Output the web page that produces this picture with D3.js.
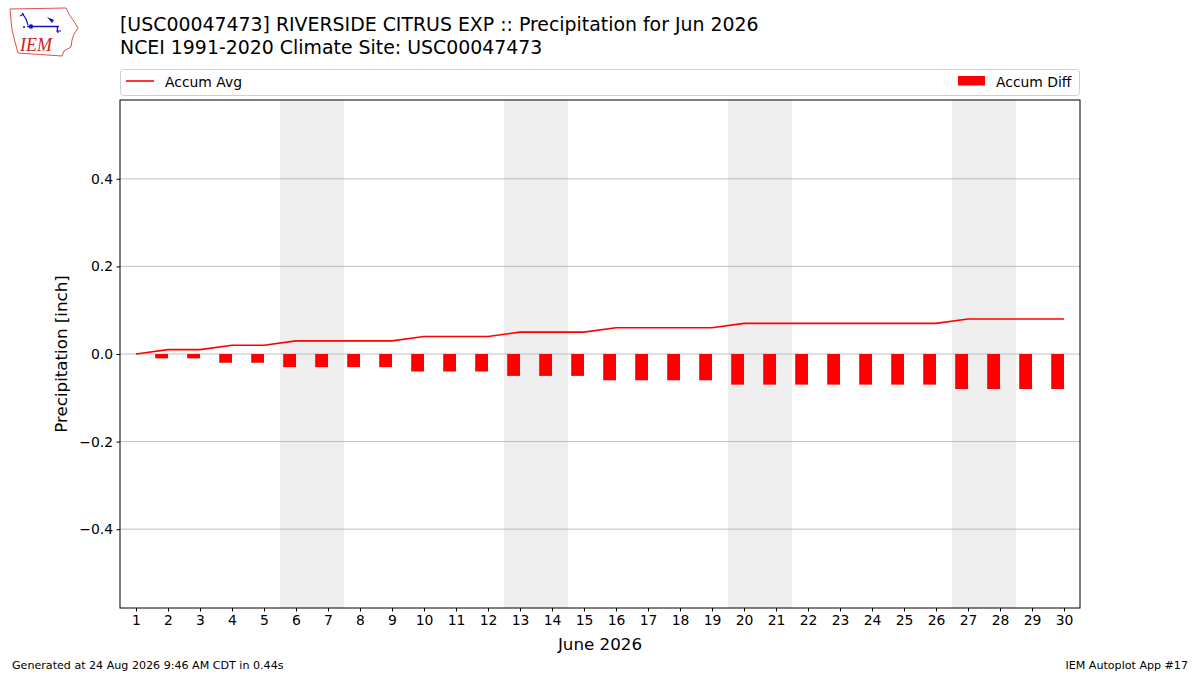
<!DOCTYPE html>
<html>
<head>
<meta charset="utf-8">
<script src="https://cdn.jsdelivr.net/npm/d3@7"></script>
<style>
html,body{margin:0;padding:0;background:#fff;}
svg{display:block;font-family:"DejaVu Sans",sans-serif;}
</style>
</head>
<body>
<svg id="chart" width="1200" height="675"></svg>
<script>
const days = d3.range(1, 31);
const accumAvg = [0.00,0.01,0.01,0.02,0.02,0.03,0.03,0.03,0.03,0.04,0.04,0.04,0.05,0.05,0.05,0.06,0.06,0.06,0.06,0.07,0.07,0.07,0.07,0.07,0.07,0.07,0.08,0.08,0.08,0.08];
const accumDiff = [0.00,-0.01,-0.01,-0.02,-0.02,-0.03,-0.03,-0.03,-0.03,-0.04,-0.04,-0.04,-0.05,-0.05,-0.05,-0.06,-0.06,-0.06,-0.06,-0.07,-0.07,-0.07,-0.07,-0.07,-0.07,-0.07,-0.08,-0.08,-0.08,-0.08];
const weekendStarts = [6, 13, 20, 27];
const yTicks = [-0.4, -0.2, 0.0, 0.2, 0.4];
const titleLines = ["[USC00047473] RIVERSIDE CITRUS EXP :: Precipitation for Jun 2026", "NCEI 1991-2020 Climate Site: USC00047473"];
const xLabel = "June 2026";
const yLabel = "Precipitation [inch]";
const footerLeft = "Generated at 24 Aug 2026 9:46 AM CDT in 0.44s";
const footerRight = "IEM Autoplot App #17";

const svg = d3.select("#chart");
const L = 120, R = 1080, T = 100, B = 608;
const x = d3.scaleLinear().domain([0.5, 30.5]).range([L, R]);
const y = d3.scaleLinear().domain([-0.58, 0.58]).range([B, T]);
const red = "#ff0000";

// weekend shading
svg.append("g").selectAll("rect").data(weekendStarts).join("rect")
  .attr("x", d => x(d - 0.5)).attr("width", d => x(d + 1.5) - x(d - 0.5))
  .attr("y", T).attr("height", B - T).attr("fill", "#eeeeee");

// grid
svg.append("g").selectAll("line").data(yTicks).join("line")
  .attr("x1", L).attr("x2", R).attr("y1", d => y(d)).attr("y2", d => y(d))
  .attr("stroke", "#b0b0b0").attr("stroke-width", 0.8);

// bars
svg.append("g").selectAll("rect").data(days).join("rect")
  .attr("x", (d) => x(d - 0.4))
  .attr("width", (d) => x(d) - x(d - 0.4))
  .attr("y", (d, i) => Math.min(y(0), y(accumDiff[i])))
  .attr("height", (d, i) => Math.abs(y(accumDiff[i]) - y(0)))
  .attr("fill", red);

// line
const line = d3.line().x((d, i) => x(days[i])).y(d => y(d));
svg.append("path").datum(accumAvg).attr("d", line)
  .attr("fill", "none").attr("stroke", red).attr("stroke-width", 1.6);

// frame
svg.append("rect").attr("x", L).attr("y", T).attr("width", R - L).attr("height", B - T)
  .attr("fill", "none").attr("stroke", "#000").attr("stroke-width", 1);

// axes
const fmtY = d => d3.format(".1f")(d).replace("-", "\u2212");
const yAxis = d3.axisLeft(y).tickValues(yTicks).tickFormat(fmtY).tickSize(3.5).tickPadding(3.5);
const gy = svg.append("g").attr("transform", `translate(${L},0)`).call(yAxis);
const xAxis = d3.axisBottom(x).tickValues(days).tickFormat(d3.format("d")).tickSize(3.5).tickPadding(3.5);
const gx = svg.append("g").attr("transform", `translate(0,${B})`).call(xAxis);
[gx, gy].forEach(g => {
  g.select(".domain").remove();
  g.selectAll("text").attr("font-size", 13.9).attr("font-family", "DejaVu Sans").attr("fill", "#000");
  g.selectAll("line").attr("stroke", "#000");
});

// axis labels
svg.append("text").attr("x", (L + R) / 2).attr("y", 650).attr("text-anchor", "middle")
  .attr("font-size", 16.7).text(xLabel);
svg.append("text").attr("transform", `translate(67,${(T + B) / 2}) rotate(-90)`)
  .attr("text-anchor", "middle").attr("font-size", 16.7).text(yLabel);

// title
svg.selectAll(".title").data(titleLines).join("text").attr("class", "title")
  .attr("x", 120).attr("y", (d, i) => 31 + i * 23).attr("font-size", 18.9).text(d => d);

// legend
const lg = svg.append("g");
lg.append("rect").attr("x", 120.5).attr("y", 69.5).attr("width", 959).attr("height", 26).attr("rx", 3)
  .attr("fill", "#fff").attr("stroke", "#d0d0d0");
lg.append("line").attr("x1", 126).attr("x2", 154).attr("y1", 81).attr("y2", 81)
  .attr("stroke", red).attr("stroke-width", 1.6);
lg.append("text").attr("x", 165).attr("y", 86.5).attr("font-size", 13.9).text("Accum Avg");
lg.append("rect").attr("x", 958).attr("y", 76).attr("width", 27).attr("height", 9.5).attr("fill", red);
lg.append("text").attr("x", 996).attr("y", 86.5).attr("font-size", 13.9).text("Accum Diff");

// footer
svg.append("text").attr("x", 12).attr("y", 669).attr("font-size", 11.1).text(footerLeft);
svg.append("text").attr("x", 1188).attr("y", 669).attr("text-anchor", "end").attr("font-size", 11.1).text(footerRight);

// logo
const logo = svg.append("g");
logo.append("path")
  .attr("d", "M10,9 L66,8 L69,14 L73,20 L78,28 L74,34 L72,40 L71,47 L64,51 L62,56 L18,53 L15,42 L12,30 L11,20 Z")
  .attr("fill", "none").attr("stroke", "#e05050").attr("stroke-width", 1);
logo.append("line").attr("x1", 27).attr("x2", 59).attr("y1", 26.5).attr("y2", 26.5).attr("stroke", "#1010c0").attr("stroke-width", 1.5);
logo.append("circle").attr("cx", 31).attr("cy", 26.5).attr("r", 2.2).attr("fill", "#1010c0");
logo.append("path").attr("d", "M22,13 L26,19 L28,25 M20,16 L24,14").attr("fill", "none").attr("stroke", "#1010c0").attr("stroke-width", 1.2);
logo.append("path").attr("d", "M47,17 L54,20 L52,23 Z").attr("fill", "#1010c0");
logo.append("path").attr("d", "M57,26 L58,33 M56,31 L61,31").attr("fill", "none").attr("stroke", "#1010c0").attr("stroke-width", 1.2);
logo.append("circle").attr("cx", 24).attr("cy", 27).attr("r", 1).attr("fill", "#1010c0");
logo.append("text").attr("x", 20).attr("y", 51).attr("font-family", "Liberation Serif").attr("font-style", "italic")
  .attr("font-size", 18).attr("fill", "#d02020").text("IEM");
</script>
</body>
</html>
